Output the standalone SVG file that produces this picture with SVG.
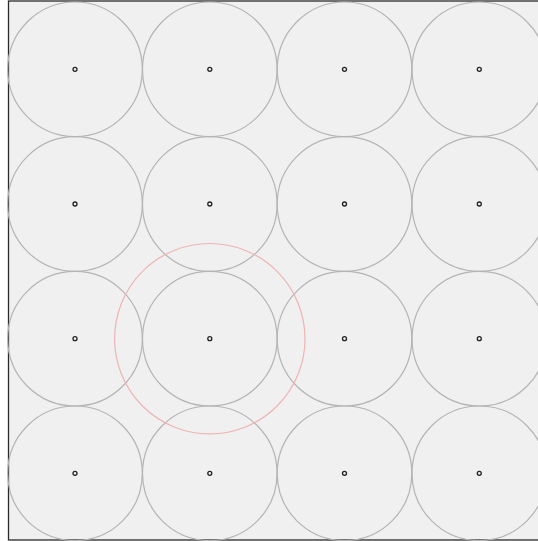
<svg xmlns="http://www.w3.org/2000/svg" width="538" height="541" viewBox="0 0 538 541">
<style>
.cell{fill:none;stroke:#b4b4b4;stroke-width:1.2}
.dot{fill:#f0f0f0;stroke:#222;stroke-width:1.3}
.ring{fill:none;stroke:#eeb4b4;stroke-width:1.2}
</style>
<rect x="0" y="0" width="538" height="541" fill="#ffffff"/>
<rect x="8.5" y="1" width="531" height="539" fill="#f0f0f0" stroke="#2a2a2a" stroke-width="1.3"/>
<g id="row1">
<g id="n11"><circle class="cell" cx="75" cy="69.3" r="67.3"/><circle class="dot" cx="75" cy="69.3" r="2"/></g>
<g id="n12"><circle class="cell" cx="209.8" cy="69.3" r="67.3"/><circle class="dot" cx="209.8" cy="69.3" r="2"/></g>
<g id="n13"><circle class="cell" cx="344.5" cy="69.3" r="67.3"/><circle class="dot" cx="344.5" cy="69.3" r="2"/></g>
<g id="n14"><circle class="cell" cx="479.3" cy="69.3" r="67.3"/><circle class="dot" cx="479.3" cy="69.3" r="2"/></g>
</g>
<g id="row2">
<g id="n21"><circle class="cell" cx="75" cy="204" r="67.3"/><circle class="dot" cx="75" cy="204" r="2"/></g>
<g id="n22"><circle class="cell" cx="209.8" cy="204" r="67.3"/><circle class="dot" cx="209.8" cy="204" r="2"/></g>
<g id="n23"><circle class="cell" cx="344.5" cy="204" r="67.3"/><circle class="dot" cx="344.5" cy="204" r="2"/></g>
<g id="n24"><circle class="cell" cx="479.3" cy="204" r="67.3"/><circle class="dot" cx="479.3" cy="204" r="2"/></g>
</g>
<g id="row3">
<g id="n31"><circle class="cell" cx="75" cy="338.7" r="67.3"/><circle class="dot" cx="75" cy="338.7" r="2"/></g>
<g id="n32"><circle class="cell" cx="209.8" cy="338.7" r="67.3"/><circle class="dot" cx="209.8" cy="338.7" r="2"/></g>
<g id="n33"><circle class="cell" cx="344.5" cy="338.7" r="67.3"/><circle class="dot" cx="344.5" cy="338.7" r="2"/></g>
<g id="n34"><circle class="cell" cx="479.3" cy="338.7" r="67.3"/><circle class="dot" cx="479.3" cy="338.7" r="2"/></g>
</g>
<g id="row4">
<g id="n41"><circle class="cell" cx="75" cy="473.3" r="67.3"/><circle class="dot" cx="75" cy="473.3" r="2"/></g>
<g id="n42"><circle class="cell" cx="209.8" cy="473.3" r="67.3"/><circle class="dot" cx="209.8" cy="473.3" r="2"/></g>
<g id="n43"><circle class="cell" cx="344.5" cy="473.3" r="67.3"/><circle class="dot" cx="344.5" cy="473.3" r="2"/></g>
<g id="n44"><circle class="cell" cx="479.3" cy="473.3" r="67.3"/><circle class="dot" cx="479.3" cy="473.3" r="2"/></g>
</g>
<g id="highlight"><circle class="ring" cx="209.8" cy="338.7" r="95.2"/></g>
<g id="connectors"></g>
</svg>
